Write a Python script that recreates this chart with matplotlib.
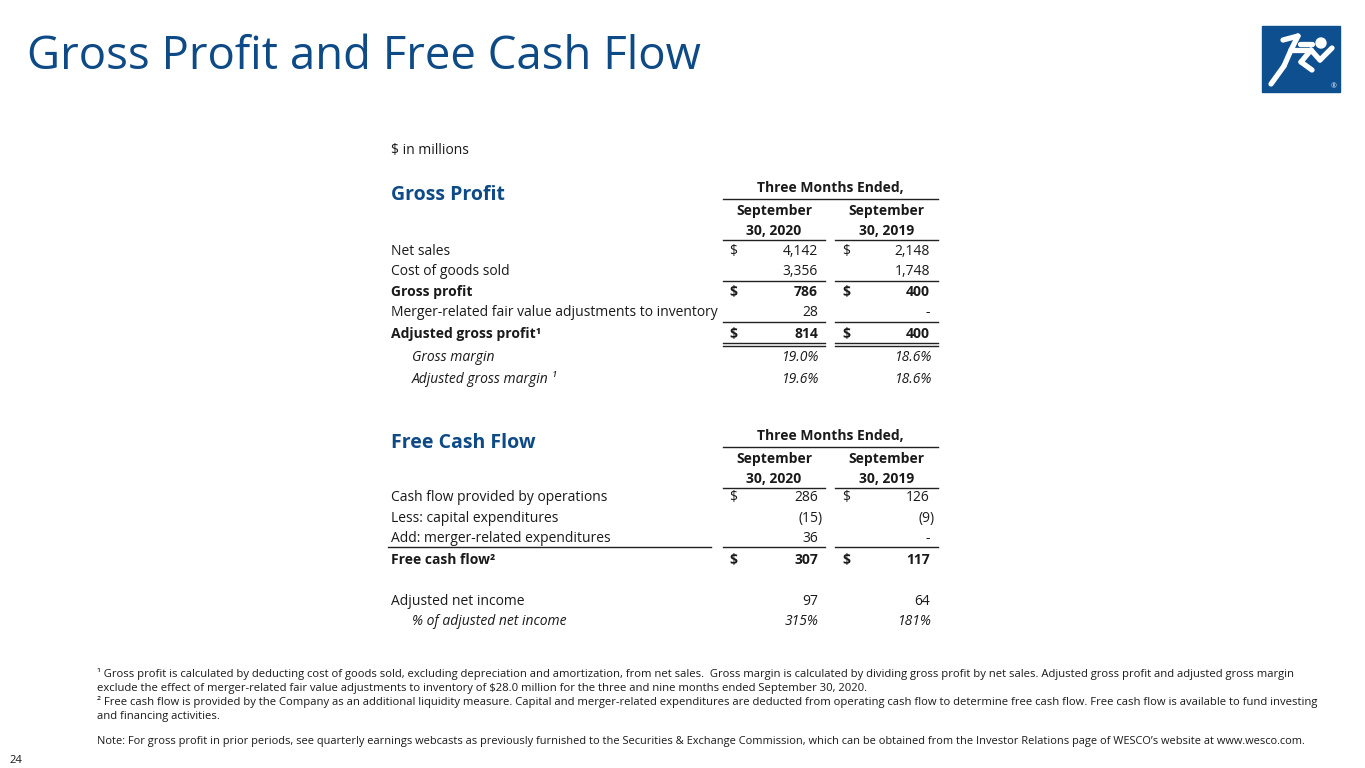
import matplotlib
matplotlib.use("Agg")
import matplotlib.pyplot as plt
from matplotlib.patches import Rectangle, Circle
from matplotlib.lines import Line2D

plt.rcParams['font.family'] = ['Open Sans', 'DejaVu Sans']

BLUE = '#0d4a86'
TXT = '#1a1a1a'

title = "Gross Profit and Free Cash Flow"
units = "$ in millions"
period_hdr = "Three Months Ended,"
col_hdr = [("September", "30, 2020"), ("September", "30, 2019")]

gp_labels = ["Net sales", "Cost of goods sold", "Gross profit",
             "Merger-related fair value adjustments to inventory",
             "Adjusted gross profit\u00b9"]
gp_2020 = ["4,142", "3,356", "786", "28", "814"]
gp_2019 = ["2,148", "1,748", "400", "-", "400"]
gp_dollar = [True, False, True, False, True]
gp_bold = [False, False, True, False, True]

gm_labels = ["Gross margin", "Adjusted gross margin \u00b9"]
gm_2020 = ["19.0%", "19.6%"]
gm_2019 = ["18.6%", "18.6%"]

fcf_labels = ["Cash flow provided by operations", "Less: capital expenditures",
              "Add: merger-related expenditures", "Free cash flow\u00b2"]
fcf_2020 = ["286", "(15)", "36", "307"]
fcf_2019 = ["126", "(9)", "-", "117"]
fcf_dollar = [True, False, False, True]
fcf_bold = [False, False, False, True]

ani_label = "Adjusted net income"
ani_vals = ["97", "64"]
pct_label = "% of adjusted net income"
pct_vals = ["315%", "181%"]

footnotes = [
    "\u00b9 Gross profit is calculated by deducting cost of goods sold, excluding depreciation and amortization, from net sales.  Gross margin is calculated by dividing gross profit by net sales. Adjusted gross profit and adjusted gross margin",
    "exclude the effect of merger-related fair value adjustments to inventory of $28.0 million for the three and nine months ended September 30, 2020.",
    "\u00b2 Free cash flow is provided by the Company as an additional liquidity measure. Capital and merger-related expenditures are deducted from operating cash flow to determine free cash flow. Free cash flow is available to fund investing",
    "and financing activities.",
]
note = "Note: For gross profit in prior periods, see quarterly earnings webcasts as previously furnished to the Securities & Exchange Commission, which can be obtained from the Investor Relations page of WESCO\u2019s website at www.wesco.com."
page = "24"

fig = plt.figure(figsize=(13.65, 7.68), dpi=100)
ax = fig.add_axes([0, 0, 1, 1])
ax.set_xlim(0, 1365)
ax.set_ylim(768, 0)
ax.axis('off')

# Title
ax.text(27, 53 + 16, title, fontsize=32.8, color=BLUE, va='baseline', ha='left')

# Logo
ax.add_patch(Rectangle((1262, 26), 78, 66, color='#0d4f8f'))
ax.add_patch(Circle((1321, 43), 5, color='white'))
for seg in [((1283, 40), (1298, 36)), ((1298, 36), (1291, 50)), ((1291, 50), (1311, 50)),
            ((1311, 50), (1301, 62)), ((1301, 62), (1312, 70)), ((1291, 50), (1284, 66)),
            ((1284, 66), (1271, 84)), ((1311, 50), (1320, 60)), ((1320, 60), (1332, 48)),
            ((1300, 44), (1312, 44))]:
    ax.add_line(Line2D([seg[0][0], seg[1][0]], [seg[0][1], seg[1][1]], color='white',
                       lw=3.8, solid_capstyle='round'))
ax.text(1334, 87, "\u00ae", fontsize=5, color='white', ha='center', va='center')

FS = 10
OFF = 5  # baseline offset from row centre
LX = 391
IX = 412
D1, D2 = 729, 842
R1, R2 = 818, 930
C1 = (723, 825)
C2 = (835, 938)

def txt(x, y, s, **kw):
    kw.setdefault('fontsize', FS)
    kw.setdefault('color', TXT)
    ax.text(x, y + OFF, s, va='baseline', **kw)

def hline(y, x0, x1, lw=1.0):
    ax.add_line(Line2D([x0, x1], [y, y], color='#222222', lw=lw))

def col_lines(y, lw=1.0):
    hline(y, *C1, lw=lw)
    hline(y, *C2, lw=lw)

def header(y0, section):
    ax.text(LX, y0 + 13, section, fontsize=14, fontweight='bold', color=BLUE, va='baseline')
    txt((C1[0] + C2[1]) / 2, y0, period_hdr, fontweight='bold', ha='center')
    hline(y0 + 12, C1[0], C2[1])
    for (a, b), (x0, x1) in zip(col_hdr, [C1, C2]):
        cx = (x0 + x1) / 2
        txt(cx, y0 + 23, a, fontweight='bold', ha='center')
        txt(cx, y0 + 43, b, fontweight='bold', ha='center')
    col_lines(y0 + 53)

def val(x, y, s, bold=False, italic=False):
    xr = x + 5 if s.startswith('(') else x
    txt(xr, y, s, ha='right', fontweight='bold' if bold else 'normal',
        fontstyle='italic' if italic else 'normal')

txt(LX, 149, units)

# Gross profit table
header(187, "Gross Profit")
gp_y = [250, 270, 291, 311, 333]
for lab, v1, v2, d, b, y in zip(gp_labels, gp_2020, gp_2019, gp_dollar, gp_bold, gp_y):
    w = 'bold' if b else 'normal'
    txt(LX, y, lab, fontweight=w)
    if d:
        txt(D1, y, "$", fontweight=w)
        txt(D2, y, "$", fontweight=w)
    val(R1, y, v1, b)
    val(R2, y, v2, b)
col_lines(281)
col_lines(322)
col_lines(343)
col_lines(345.5)
for lab, v1, v2, y in zip(gm_labels, gm_2020, gm_2019, [356, 378]):
    txt(IX, y, lab, fontstyle='italic')
    val(R1 + 1, y, v1, italic=True)
    val(R2 + 2, y, v2, italic=True)

# Free cash flow table
header(435, "Free Cash Flow")
fcf_y = [496, 517, 537, 559]
for lab, v1, v2, d, b, y in zip(fcf_labels, fcf_2020, fcf_2019, fcf_dollar, fcf_bold, fcf_y):
    w = 'bold' if b else 'normal'
    txt(LX, y, lab, fontweight=w)
    if d:
        txt(D1, y, "$", fontweight=w)
        txt(D2, y, "$", fontweight=w)
    val(R1, y, v1, b)
    val(R2, y, v2, b)
hline(547, 388, 711)
col_lines(547)
txt(LX, 600, ani_label)
val(R1, 600, ani_vals[0])
val(R2, 600, ani_vals[1])
txt(IX, 620, pct_label, fontstyle='italic')
val(R1 + 1, 620, pct_vals[0], italic=True)
val(R2 + 2, 620, pct_vals[1], italic=True)

# Footnotes
FN = 8.15
for s, y in zip(footnotes, [673, 687, 701, 715]):
    ax.text(97, y + 4, s, fontsize=FN, color=TXT, va='baseline')
ax.text(97, 740 + 4, note, fontsize=7.95, color=TXT, va='baseline')
ax.text(10, 759 + 4, page, fontsize=FN, color=TXT, va='baseline')

fig.savefig("out.png", dpi=100)
